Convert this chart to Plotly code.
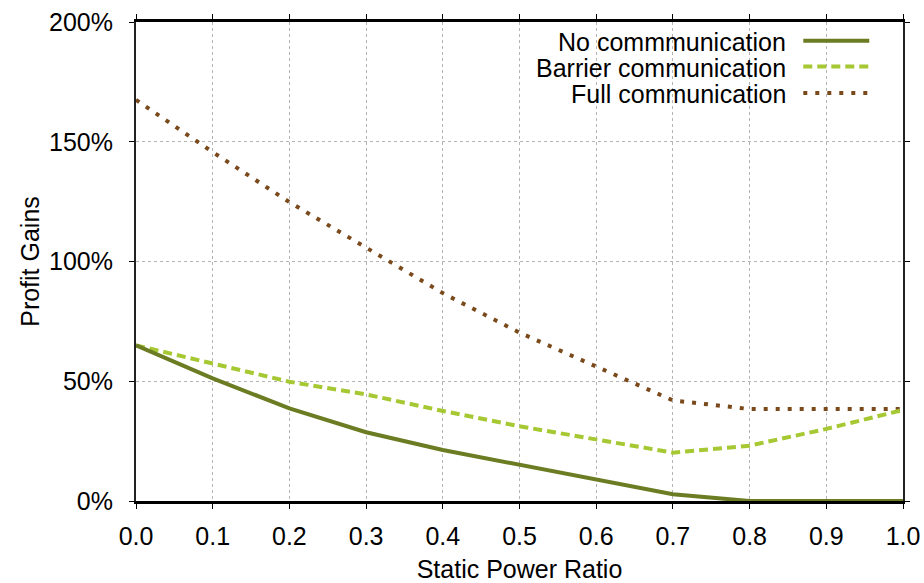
import plotly.graph_objects as go

ratio = [0.0, 0.1, 0.2, 0.3, 0.4, 0.5, 0.6, 0.7, 0.8, 0.9, 1.0]
no_comm = [65, 51.2, 38.7, 28.7, 21.3, 15.0, 8.8, 2.8, 0, 0, 0]
barrier_comm = [65, 57.5, 49.8, 44.5, 37.6, 31.2, 25.5, 20.2, 23.1, 30.1, 38.0]
full_comm = [167.5, 145.7, 124.8, 106.0, 86.8, 70.3, 56.0, 42.0, 38.4, 38.4, 38.4]
y_ticks = [0, 50, 100, 150, 200]
y_tick_labels = ["0%", "50%", "100%", "150%", "200%"]
x_ticks = ratio
x_tick_labels = ["0.0", "0.1", "0.2", "0.3", "0.4", "0.5", "0.6", "0.7", "0.8", "0.9", "1.0"]

names = ["No commmunication", "Barrier communication", "Full communication"]
colors = ["#6b7c23", "#a6c832", "#7b4a1c"]
dashes = ["solid", "9px,5px", "4px,8px"]
series = [no_comm, barrier_comm, full_comm]

FONT = "Liberation Sans, Arial, sans-serif"
FS = 25

fig = go.Figure()
for i in [2, 1, 0]:
    fig.add_trace(go.Scatter(
        x=ratio, y=series[i], mode="lines", name=names[i],
        line=dict(color=colors[i], width=4, dash=dashes[i]),
        cliponaxis=False, showlegend=False,
    ))

# custom legend (text left, sample right)
leg_text_x = 0.849
leg_rows_text = [0.958, 0.904, 0.850]
leg_rows_line = [0.961, 0.907, 0.852]
for i in range(3):
    fig.add_annotation(
        x=leg_text_x, y=leg_rows_text[i], xref="paper", yref="paper",
        text=names[i], showarrow=False, xanchor="right", yanchor="middle",
        borderpad=0, font=dict(family=FONT, size=FS, color="black"),
    )
    fig.add_shape(
        type="line", xref="paper", yref="paper",
        x0=0.870, x1=0.956, y0=leg_rows_line[i], y1=leg_rows_line[i],
        line=dict(color=colors[i], width=4, dash=dashes[i]),
    )

axis_common = dict(
    showgrid=True, gridcolor="#b4b4b4", gridwidth=1, griddash="dot",
    ticks="outside", ticklen=5, tickcolor="black", tickwidth=1,
    mirror="ticks", zeroline=False, layer="below traces", automargin=False,
    tickfont=dict(family=FONT, size=FS, color="black"),
)

fig.update_layout(
    width=924, height=583,
    margin=dict(l=136, r=21, t=22, b=82),
    paper_bgcolor="white", plot_bgcolor="white",
    font=dict(family=FONT, size=FS, color="black"),
    xaxis=dict(
        range=[0, 1], tickvals=x_ticks, ticktext=x_tick_labels,
        showline=True, linecolor="black", linewidth=3,
        ticklabelstandoff=6,
        title=dict(text="Static Power Ratio", standoff=14,
                   font=dict(family=FONT, size=FS, color="black")),
        **axis_common,
    ),
    yaxis=dict(
        range=[0, 200], tickvals=y_ticks, ticktext=y_tick_labels,
        showline=True, linecolor="#222", linewidth=2,
        ticklabelstandoff=11,
        title=dict(text="Profit Gains", standoff=2,
                   font=dict(family=FONT, size=FS, color="black")),
        **axis_common,
    ),
)

fig.write_html("out.html")
